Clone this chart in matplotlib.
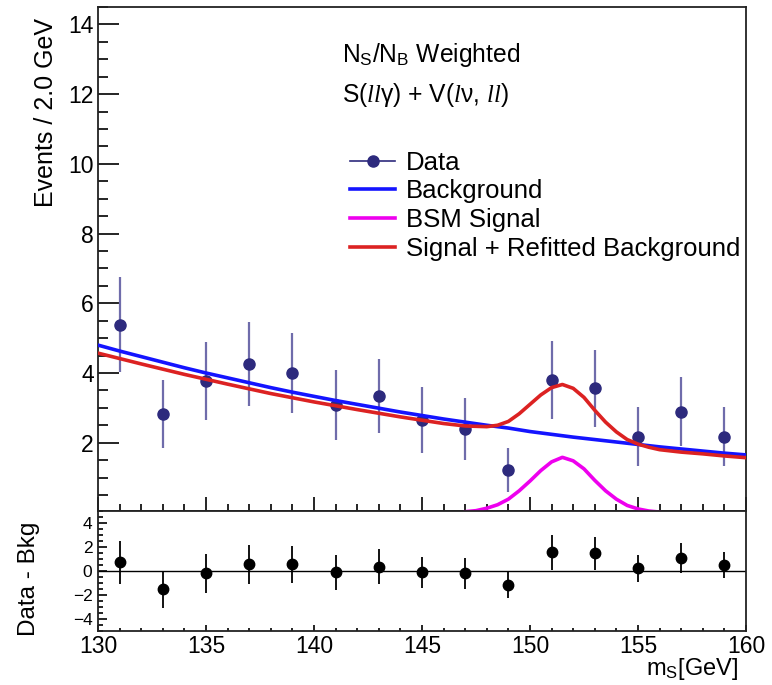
"""
Fit of the m_S spectrum with background, BSM signal and signal + refitted background,
plus the Data - Bkg residual panel underneath.
"""
### Import necessary libraries
import matplotlib
matplotlib.use('Agg')
import matplotlib.pyplot as plt
from matplotlib.lines import Line2D
from matplotlib.ticker import MultipleLocator

plt.rcParams['font.family'] = ['Liberation Sans', 'DejaVu Sans']
plt.rcParams['mathtext.fontset'] = 'custom'
plt.rcParams['mathtext.rm'] = 'Liberation Sans'
plt.rcParams['mathtext.it'] = 'Liberation Serif:italic'

### Data points (bin centres, 2 GeV bins)
mass = [131, 133, 135, 137, 139, 141, 143, 145, 147, 149, 151, 153, 155, 157, 159]
events = [5.39, 2.83, 3.77, 4.26, 4.01, 3.08, 3.34, 2.65, 2.39, 1.22, 3.79, 3.56, 2.17, 2.89, 2.17]
events_err = [1.37, 0.97, 1.12, 1.20, 1.15, 1.01, 1.06, 0.94, 0.90, 0.64, 1.12, 1.10, 0.85, 0.99, 0.85]

### Data - Bkg residuals
resid = [0.72, -1.53, -0.22, 0.53, 0.53, -0.13, 0.33, -0.13, -0.22, -1.19, 1.53, 1.45, 0.20, 1.08, 0.48]
resid_err = [1.80, 1.53, 1.60, 1.62, 1.57, 1.46, 1.45, 1.32, 1.31, 1.08, 1.43, 1.36, 1.15, 1.25, 1.10]

### Background curve
m_bkg = list(range(130, 161))
bkg = [4.80, 4.63, 4.47, 4.31, 4.15, 4.00, 3.86, 3.72, 3.58, 3.45,
       3.33, 3.21, 3.10, 2.99, 2.88, 2.78, 2.68, 2.59, 2.50, 2.42,
       2.32, 2.24, 2.16, 2.09, 2.02, 1.95, 1.88, 1.82, 1.76, 1.70, 1.65]

### BSM signal curve
m_sig = [147.0, 147.5, 148.0, 148.5, 149.0, 149.5, 150.0, 150.5, 151.0, 151.5,
         152.0, 152.5, 153.0, 153.5, 154.0, 154.5, 155.0, 155.5, 156.0]
sig = [0.02, 0.05, 0.12, 0.22, 0.38, 0.62, 0.90, 1.20, 1.45, 1.58,
       1.48, 1.25, 0.92, 0.62, 0.38, 0.20, 0.10, 0.04, 0.01]

### Signal + refitted background curve
m_fit = [130, 132, 134, 136, 138, 140, 142, 144, 146, 147.0, 148.0, 148.5,
         149.0, 149.5, 150.0, 150.5, 151.0, 151.5, 152.0, 152.5, 153.0, 153.5, 154.0,
         154.5, 155.0, 155.5, 156.0, 157, 158, 159, 160]
fit = [4.57, 4.26, 3.96, 3.68, 3.41, 3.17, 2.95, 2.74, 2.55, 2.48, 2.46, 2.50,
       2.61, 2.83, 3.10, 3.37, 3.58, 3.67, 3.56, 3.30, 2.93, 2.59, 2.31,
       2.09, 1.96, 1.87, 1.80, 1.73, 1.68, 1.62, 1.57]

navy = '#2d2a7d'

### Figure with main pad and residual pad
fig = plt.figure(figsize=(7.72, 6.85), dpi=100)
ax = fig.add_axes([0.1269, 0.2545, 0.8394, 0.7353])
ax_r = fig.add_axes([0.1269, 0.0788, 0.8394, 0.1757], sharex=ax)

### Main pad
ax.errorbar(mass, events, yerr=events_err, fmt='o', color=navy, ms=8,
            ecolor='#6f6cab', elinewidth=1.6, capsize=0, zorder=3)
ax.plot(m_bkg, bkg, color='#1414ff', lw=2.6, zorder=4)
ax.plot(m_sig, sig, color='#ee00ee', lw=2.6, zorder=4)
ax.plot(m_fit, fit, color='#dc2222', lw=2.6, zorder=4)

ax.set_xlim(130, 160)
ax.set_ylim(0.05, 14.5)
ax.yaxis.set_major_locator(MultipleLocator(2))
ax.yaxis.set_minor_locator(MultipleLocator(0.5))
ax.xaxis.set_major_locator(MultipleLocator(5))
ax.xaxis.set_minor_locator(MultipleLocator(1))
ax.tick_params(axis='y', which='major', direction='in', length=15, width=1.2, labelsize=16.5, pad=3)
ax.tick_params(axis='y', which='minor', direction='in', length=7.5, width=1.2)
ax.tick_params(axis='x', which='major', direction='in', length=10, width=1.2, labelbottom=False)
ax.tick_params(axis='x', which='minor', direction='in', length=5, width=1.2)
ax.set_yticks([2, 4, 6, 8, 10, 12, 14])
ax.set_ylabel('Events / 2.0 GeV', fontsize=18, ha='right')
ax.yaxis.set_label_coords(-0.062, 0.978)

ax.text(0.3765, 0.891, r'N$_\mathrm{S}$/N$_\mathrm{B}$ Weighted', transform=ax.transAxes,
        fontsize=17.7, va='baseline')
ax.text(0.3765, 0.812, r'S($ll$γ) + V($l$ν, $ll$)', transform=ax.transAxes,
        fontsize=17.7, va='baseline')

### Legend
handles = [Line2D([], [], color=navy, lw=1.2, marker='o', ms=8),
           Line2D([], [], color='#1414ff', lw=2.6),
           Line2D([], [], color='#ee00ee', lw=2.6),
           Line2D([], [], color='#dc2222', lw=2.6)]
labels = ['Data', 'Background', 'BSM Signal', 'Signal + Refitted Background']
ax.legend(handles, labels, loc='upper left', bbox_to_anchor=(0.389, 0.715), frameon=False,
          fontsize=18.5, borderpad=0, borderaxespad=0, handlelength=1.75,
          handletextpad=0.43, labelspacing=0.19)

### Residual pad
ax_r.axhline(0, color='black', lw=1)
ax_r.errorbar(mass, resid, yerr=resid_err, fmt='o', color='black', ms=7.5,
              ecolor='black', elinewidth=1.3, capsize=0, zorder=3)
ax_r.set_ylim(-5, 5)
ax_r.set_yticks([-4, -2, 0, 2, 4])
ax_r.yaxis.set_minor_locator(MultipleLocator(0.5))
ax_r.tick_params(axis='y', which='major', direction='in', length=6.5, width=1.2, labelsize=12.5, pad=4)
ax_r.tick_params(axis='y', which='minor', direction='in', length=3.5, width=1.2)
ax_r.tick_params(axis='x', which='major', direction='in', length=4.5, width=1.2, labelsize=16.5, pad=3)
ax_r.tick_params(axis='x', which='minor', direction='in', length=2.5, width=1.2)
ax_r.set_ylabel('Data - Bkg', fontsize=17.5)
ax_r.yaxis.set_label_coords(-0.0895, 0.436)
ax_r.set_xlabel(r'm$_\mathrm{S}$[GeV]', fontsize=17, ha='right', va='top')
ax_r.xaxis.set_label_coords(0.988, -0.21)

for a in (ax, ax_r):
    for s in a.spines.values():
        s.set_linewidth(1.3)
        s.set_color('#222222')

fig.savefig('out.png', dpi=100)
